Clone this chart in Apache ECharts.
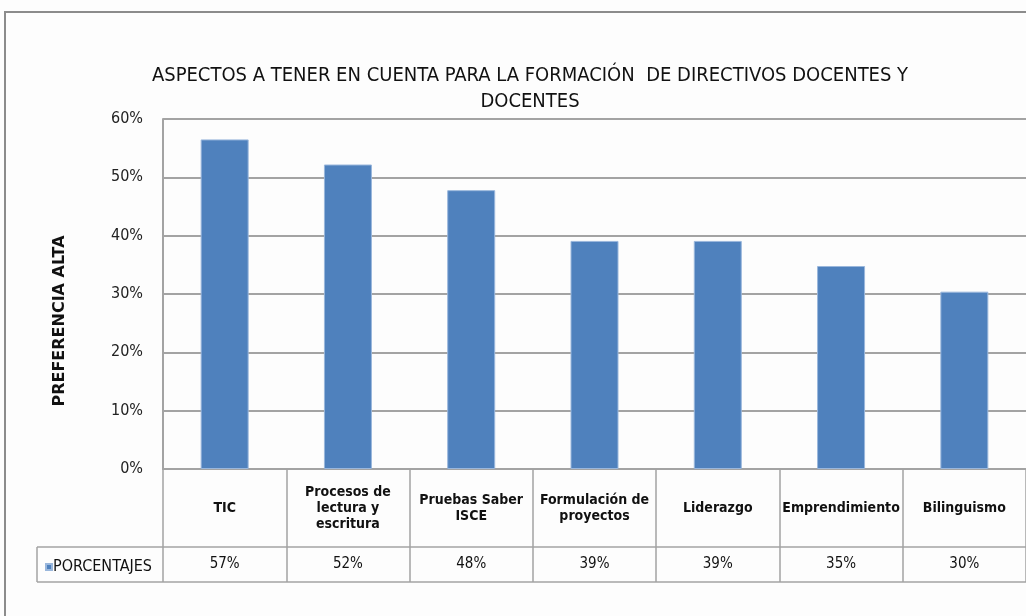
<!DOCTYPE html>
<html><head><meta charset="utf-8">
<script src="https://cdn.jsdelivr.net/npm/echarts@6/dist/echarts.min.js"></script>
<style>html,body{margin:0;padding:0;background:#fff}#c{width:1026px;height:616px}</style>
</head><body><div id="c"></div>
<script>
const titleText = 'ASPECTOS A TENER EN CUENTA PARA LA FORMACIÓN  DE DIRECTIVOS DOCENTES Y\nDOCENTES';
const yAxisTitle = 'PREFERENCIA ALTA';
const seriesName = 'PORCENTAJES';
const categories = ['TIC', 'Procesos de\nlectura y\nescritura', 'Pruebas Saber\nISCE', 'Formulación de\nproyectos', 'Liderazgo', 'Emprendimiento', 'Bilinguismo'];
const values = [56.5, 52.2, 47.8, 39.1, 39.1, 34.8, 30.4];
const valueLabels = ['57%', '52%', '48%', '39%', '39%', '35%', '30%'];
const yTicks = [0, 10, 20, 30, 40, 50, 60];

const NARROW = "'Liberation Sans Narrow', 'Arial Narrow', 'DejaVu Sans Condensed', sans-serif";
const grey = '#a3a3a3';
const chart = echarts.init(document.getElementById('c'));
chart.setOption({
  backgroundColor: '#fdfdfd',
  animation: false,
  title: {
    text: titleText, left: 525, top: 58, textAlign: 'center',
    textStyle: {fontFamily: NARROW, fontSize: 20, fontWeight: 'normal', color: '#111', lineHeight: 26}
  },
  legend: {
    left: 40, top: 554, data: [seriesName], icon: 'rect', itemWidth: 6, itemHeight: 6, itemGap: 0,
    textStyle: {fontFamily: NARROW, fontSize: 16, color: '#111', padding: [0, 0, 0, -4]}
  },
  grid: {left: 163, top: 119, width: 873, height: 350, containLabel: false},
  xAxis: [{
    type: 'category', data: categories, position: 'bottom',
    axisLine: {show: true, lineStyle: {color: grey, width: 2}},
    axisTick: {show: true, length: 113, lineStyle: {color: grey, width: 1.5}},
    axisLabel: {interval: 0, margin: 39, verticalAlign: 'middle', fontFamily: NARROW, fontSize: 14, fontWeight: 'bold', color: '#111', lineHeight: 16, align: 'center'}
  }, {
    type: 'category', data: valueLabels, position: 'bottom', gridIndex: 0,
    axisLine: {show: false}, axisTick: {show: false},
    axisLabel: {interval: 0, margin: 95, verticalAlign: 'middle', fontFamily: NARROW, fontSize: 15, color: '#111'}
  }],
  yAxis: {
    type: 'value', min: 0, max: 60, interval: 10,
    axisLine: {show: true, lineStyle: {color: grey, width: 2}},
    axisTick: {show: false},
    axisLabel: {margin: 20, formatter: v => v + '%', fontFamily: NARROW, fontSize: 16, color: '#222'},
    splitLine: {show: true, lineStyle: {color: grey, width: 2}}
  },
  series: [{
    name: seriesName, type: 'bar', data: values, xAxisIndex: 0, barWidth: 48,
    itemStyle: {color: '#4f81bd', borderColor: '#9ab7dc', borderWidth: 1}
  }],
  graphic: [
    {type: 'rect', shape: {x: 5, y: 12, width: 1100, height: 700}, style: {fill: 'none', stroke: '#8c8c8c', lineWidth: 2}, silent: true, z: -1},
    {type: 'line', shape: {x1: 37, y1: 547, x2: 1100, y2: 547}, style: {stroke: grey, lineWidth: 1.5}},
    {type: 'line', shape: {x1: 37, y1: 582, x2: 1100, y2: 582}, style: {stroke: grey, lineWidth: 1.5}},
    {type: 'line', shape: {x1: 37, y1: 547, x2: 37, y2: 582}, style: {stroke: grey, lineWidth: 1.5}},
    {type: 'text', x: 60, y: 321, rotation: Math.PI / 2,
      style: {text: yAxisTitle, fontFamily: "'DejaVu Sans', sans-serif", fontSize: 16, fontWeight: 'bold', fill: '#111', align: 'center', verticalAlign: 'middle'}}
  ]
});
</script></body></html>
